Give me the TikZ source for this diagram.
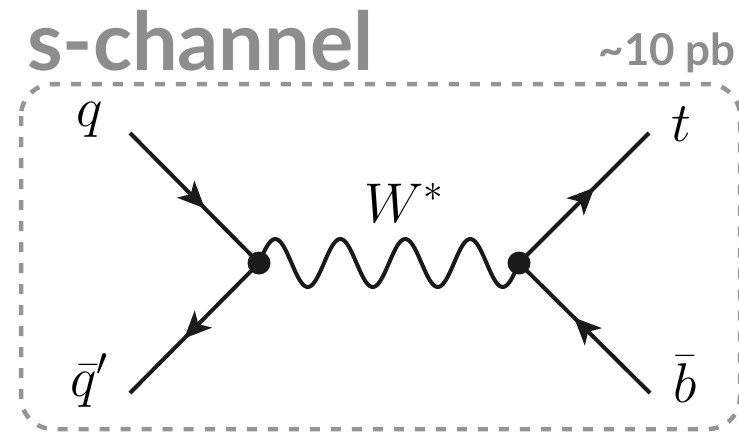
\RequirePackage{fix-cm}
\documentclass[tikz,border=0pt]{standalone}
\usepackage{fontspec}
\newfontfamily\latofont{Lato}
\usetikzlibrary{arrows.meta,decorations.markings}
\definecolor{titlegray}{HTML}{8D8D8D}
\definecolor{boxgray}{HTML}{959595}
\definecolor{ink}{HTML}{1A1A1A}
\tikzset{
  fermion/.style={draw=ink, line width=4pt, postaction={decorate},
    decoration={markings, mark=at position 0.58 with {\arrow[ink]{Stealth[length=27pt,width=24pt,inset=7pt]}}}},
  boson/.style={draw=ink, line width=4pt, line join=round},
  vertexdot/.style={circle, fill=ink, inner sep=0pt, minimum size=23pt},
  lbl/.style={inner sep=0pt, anchor=base, font=\fontsize{56}{60}\selectfont},
  titletxt/.style={inner sep=0pt, text=titlegray, font=\latofont\bfseries\fontsize{81}{90}\selectfont},
  xsectxt/.style={inner sep=0pt, text=titlegray, font=\latofont\bfseries\fontsize{44}{50}\selectfont},
  framebox/.style={draw=boxgray, line width=4.5pt, dash pattern=on 10pt off 11pt, rounded corners=32pt}
}
\begin{document}
\begin{tikzpicture}[x=1pt,y=-1pt]
\useasboundingbox (0,0) rectangle (739,434);
\draw[framebox] (21,84) rectangle (740,429);
\node[titletxt, anchor=base west] (title) at (27,70) {s-channel};
\node[xsectxt, anchor=base east] (xsec) at (736,65) {\textasciitilde10 pb};
\coordinate (qin) at (130,133);
\coordinate (qbarin) at (130,393);
\coordinate (tout) at (649,133);
\coordinate (bbarin) at (650,393);
\coordinate (v1c) at (259,263);
\coordinate (v2c) at (519,263);
\draw[boson] plot[domain=0:260, samples=161, smooth] ({259+\x},{263-24*sin(\x/65*360)});
\draw[fermion] (qin) -- (v1c);
\draw[fermion] (v1c) -- (qbarin);
\draw[fermion] (v2c) -- (tout);
\draw[fermion] (bbarin) -- (v2c);
\node[vertexdot] (v1) at (v1c) {};
\node[vertexdot] (v2) at (v2c) {};
\node[lbl] (lq) at (90,126) {$q$};
\node[lbl] (lqbar) at (89,396) {$\bar{q}'$};
\node[lbl] (lt) at (681,141) {$t$};
\node[lbl] (lbbar) at (685,402) {$\bar{b}$};
\node[lbl] (lw) at (404,222) {$W^*$};
\end{tikzpicture}
\end{document}
